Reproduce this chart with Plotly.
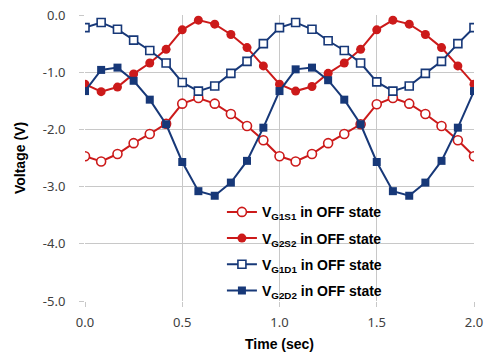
import plotly.graph_objects as go

time = [0.0, 0.083, 0.167, 0.25, 0.333, 0.417, 0.5, 0.583, 0.667, 0.75, 0.833, 0.917,
        1.0, 1.083, 1.167, 1.25, 1.333, 1.417, 1.5, 1.583, 1.667, 1.75, 1.833, 1.917, 2.0]

v_g1s1 = [-2.47, -2.56, -2.43, -2.24, -2.08, -1.90, -1.55, -1.45, -1.55, -1.73, -1.94, -2.19,
          -2.47, -2.56, -2.43, -2.24, -2.08, -1.91, -1.56, -1.45, -1.55, -1.73, -1.94, -2.19, -2.47]
v_g2s2 = [-1.21, -1.34, -1.26, -1.03, -0.84, -0.60, -0.26, -0.09, -0.16, -0.34, -0.57, -0.89,
          -1.21, -1.33, -1.25, -1.02, -0.84, -0.60, -0.26, -0.09, -0.16, -0.34, -0.57, -0.89, -1.21]
v_g1d1 = [-0.22, -0.13, -0.25, -0.44, -0.62, -0.84, -1.18, -1.33, -1.24, -1.02, -0.81, -0.50,
          -0.22, -0.13, -0.25, -0.45, -0.62, -0.84, -1.17, -1.33, -1.24, -1.02, -0.81, -0.50, -0.22]
v_g2d2 = [-1.33, -0.96, -0.92, -1.15, -1.48, -1.91, -2.57, -3.08, -3.16, -2.93, -2.55, -1.97,
          -1.33, -0.95, -0.92, -1.14, -1.48, -1.91, -2.57, -3.08, -3.16, -2.93, -2.55, -1.97, -1.33]

names = ["V<sub>G1S1</sub> in OFF state", "V<sub>G2S2</sub> in OFF state",
         "V<sub>G1D1</sub> in OFF state", "V<sub>G2D2</sub> in OFF state"]

x_ticks = [0, 0.5, 1.0, 1.5, 2.0]
x_ticklabels = ["0.0", "0.5", "1.0", "1.5", "2.0"]
y_ticks = [0, -1, -2, -3, -4, -5]
y_ticklabels = ["0.0", "-1.0", "-2.0", "-3.0", "-4.0", "-5.0"]

RED = "#cc1a1a"
BLUE = "#173878"

series = [
    (v_g1s1, RED, "circle-open", 9),
    (v_g2s2, RED, "circle", 9),
    (v_g1d1, BLUE, "square-open", 8),
    (v_g2d2, BLUE, "square", 8),
]

fig = go.Figure()
for i, (vals, col, sym, sz) in enumerate(series):
    open_ = sym.endswith("open")
    fig.add_trace(go.Scatter(
        x=time, y=vals, mode="lines+markers", name=names[i],
        legendgroup=f"g{i}",
        line=dict(color=col, width=2),
        marker=dict(symbol=sym.replace("-open", ""), size=sz,
                    color="white" if open_ else col,
                    line=dict(color=col, width=1.6 if open_ else 0)),
    ))

grid = "#c8c8c8"
tickfont = dict(family="Noto Sans, Open Sans, sans-serif", size=13, color="#404040")
titlefont = dict(family="Liberation Sans, Arial, sans-serif", size=14, color="#000000")

fig.update_layout(
    width=485, height=355,
    margin=dict(l=85, r=11, t=15, b=54),
    paper_bgcolor="white", plot_bgcolor="white",
    showlegend=True,
    legend=dict(
        x=0.352, y=0.366, xanchor="left", yanchor="top",
        bgcolor="rgba(255,255,255,0)",
        font=dict(family="Liberation Sans, Arial, sans-serif", size=14, color="#000000", weight="bold"),
        traceorder="grouped", tracegroupgap=5,
    ),
    xaxis=dict(
        range=[0, 2.0], tickvals=x_ticks, ticktext=x_ticklabels,
        showgrid=True, gridcolor=grid, gridwidth=1,
        zeroline=False, showline=False, automargin=False,
        ticks="outside", ticklen=5, tickcolor=grid,
        ticklabelstandoff=4,
        tickfont=tickfont,
        title=dict(text="<b>Time (sec)</b>", font=titlefont, standoff=9),
    ),
    yaxis=dict(
        range=[-5.0, 0.0], tickvals=y_ticks, ticktext=y_ticklabels,
        showgrid=True, gridcolor=grid, gridwidth=1,
        zeroline=False, showline=False, automargin=False,
        ticks="outside", ticklen=5, tickcolor=grid,
        ticklabelstandoff=11,
        tickfont=tickfont,
        title=dict(text="<b>Voltage (V)</b>", font=titlefont, standoff=13),
    ),
)

fig.write_html(
    "out.html",
    config={"displayModeBar": False},
    post_script="document.body.style.margin='0';document.body.style.padding='0';",
)
